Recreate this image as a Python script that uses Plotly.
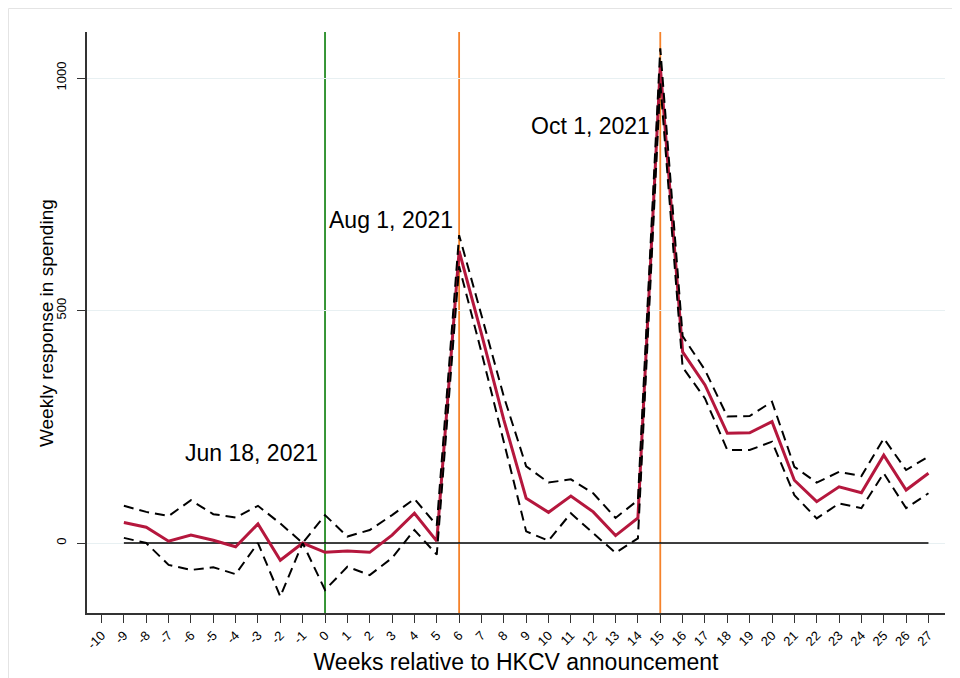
import plotly.graph_objects as go

weeks = list(range(-9, 28))
coef = [44, 34, 4, 17, 6, -8, 41, -37, 0, -20, -17, -20, 17, 64, 4, 628, 450, 265, 96, 66,
        101, 67, 16, 54, 1025, 411, 340, 236, 237, 261, 135, 89, 121, 108, 189, 114, 150]
upper = [80, 67, 58, 92, 62, 55, 80, 42, 0, 60, 14, 28, 60, 95, 38, 662, 490, 315, 165, 130,
         137, 107, 54, 92, 1064, 445, 372, 272, 273, 304, 164, 130, 153, 144, 225, 157, 186]
lower = [11, 0, -47, -58, -52, -67, 0, -115, 0, -101, -51, -69, -32, 28, -25, 595, 410, 215, 25, 5,
         64, 21, -21, 10, 990, 378, 311, 200, 200, 218, 103, 53, 85, 75, 150, 75, 107]

tick_vals = list(range(-10, 28))
y_ticks = [0, 500, 1000]

event_weeks = [0, 6, 15]
event_colors = ["#238B23", "#F5822A", "#F5822A"]
event_labels = ["Jun 18, 2021", "Aug 1, 2021", "Oct 1, 2021"]
label_x = [-0.22, 0.09, 14.63]
label_y = [194, 695, 897]
label_anchor = ["right", "left", "right"]

FONT = "Liberation Sans, Arial, Helvetica, sans-serif"

fig = go.Figure()

# zero reference line
fig.add_trace(go.Scatter(x=[weeks[0], weeks[-1]], y=[0, 0], mode="lines",
                         line=dict(color="black", width=1.6), showlegend=False, hoverinfo="skip"))

fig.add_trace(go.Scatter(x=weeks, y=coef, mode="lines",
                         line=dict(color="#B5173D", width=3), showlegend=False))
fig.add_trace(go.Scatter(x=weeks, y=upper, mode="lines",
                         line=dict(color="black", width=2, dash="10px,6px"), showlegend=False))
fig.add_trace(go.Scatter(x=weeks, y=lower, mode="lines",
                         line=dict(color="black", width=2, dash="10px,6px"), showlegend=False))

shapes = []
for w, c in zip(event_weeks, event_colors):
    shapes.append(dict(type="line", xref="x", yref="paper", x0=w, x1=w, y0=0, y1=1,
                       line=dict(color=c, width=1.8), layer="below"))
# outer frame
shapes.append(dict(type="rect", xref="paper", yref="paper", x0=-0.0915, x1=1.03,
                   y0=-0.13, y1=1.0404, line=dict(color="#e4e4e4", width=1), layer="below"))

annotations = []
for t, x, y, a in zip(event_labels, label_x, label_y, label_anchor):
    annotations.append(dict(x=x, y=y, xref="x", yref="y", text=t, showarrow=False,
                            xanchor=a, yanchor="middle",
                            font=dict(family=FONT, size=23, color="black")))
# y axis title
annotations.append(dict(x=-0.0478, y=0.499, xref="paper", yref="paper",
                        text="Weekly response in spending", textangle=-90, showarrow=False,
                        xanchor="center", yanchor="middle",
                        font=dict(family=FONT, size=19, color="black")))

fig.update_layout(
    width=952, height=670,
    margin=dict(l=79, r=15, t=24, b=65),
    paper_bgcolor="white", plot_bgcolor="white",
    shapes=shapes, annotations=annotations,
    font=dict(family=FONT, color="black"),
    xaxis=dict(range=[-10.65, 27.74], tickmode="array", tickvals=tick_vals,
               ticktext=[str(v) for v in tick_vals], tickangle=-45, automargin=False,
               tickfont=dict(size=13, color="black"), ticks="outside", ticklen=8, tickwidth=1.2,
               tickcolor="#333", showline=True, linecolor="#333", linewidth=1.5,
               showgrid=False, zeroline=False,
               title=dict(text="Weeks relative to HKCV announcement",
                          font=dict(size=23), standoff=0)),
    yaxis=dict(range=[-150.5, 1099], tickmode="array", tickvals=y_ticks,
               ticktext=[str(v) for v in y_ticks], tickangle=-90, automargin=False,
               ticklabelstandoff=6,
               tickfont=dict(size=13, color="black"), ticks="outside", ticklen=8, tickwidth=1.2,
               tickcolor="#333", showline=True, linecolor="#333", linewidth=1.5,
               showgrid=True, gridcolor="#E8F0F2", gridwidth=1.2, zeroline=False),
)

fig.write_html("out.html")
